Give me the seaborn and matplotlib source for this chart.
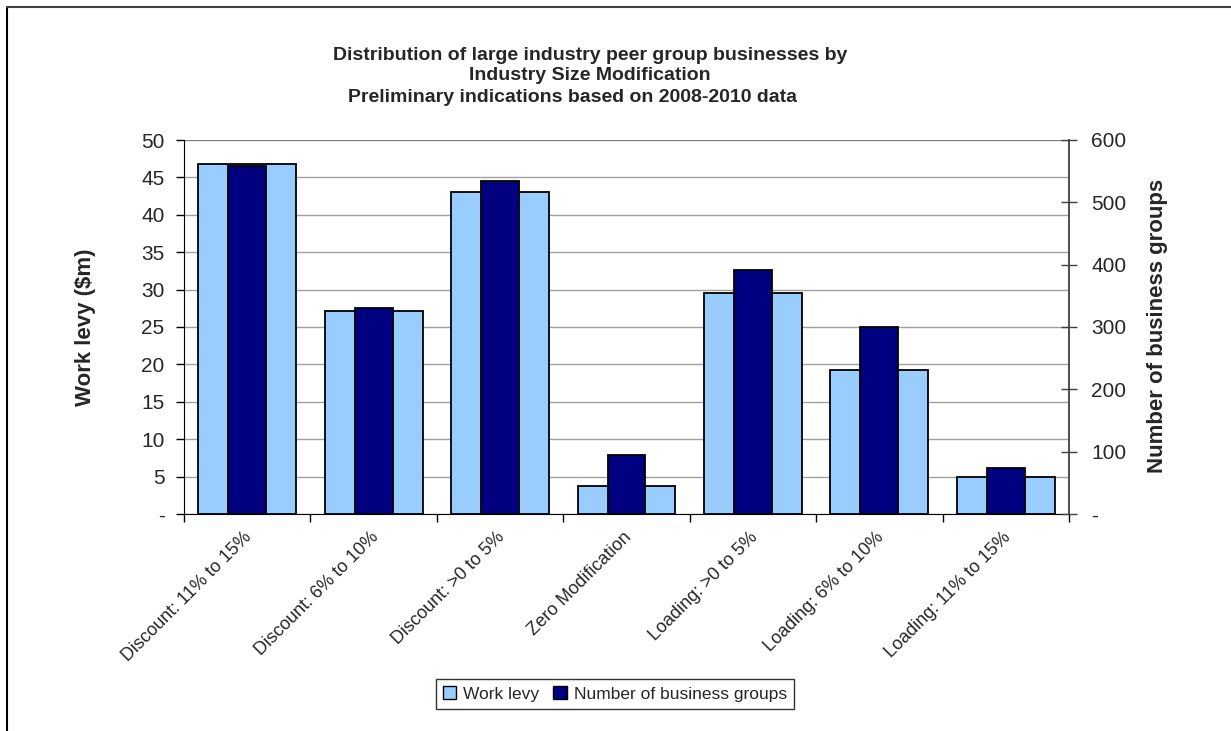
import pandas as pd
import matplotlib.pyplot as plt
import seaborn as sns
from matplotlib.lines import Line2D
from matplotlib.patches import Patch

categories = ['Discount: 11% to 15%', 'Discount: 6% to 10%', 'Discount: >0 to 5%',
              'Zero Modification', 'Loading: >0 to 5%', 'Loading: 6% to 10%',
              'Loading: 11% to 15%']
work_levy = [46.8, 27.1, 43.0, 3.8, 29.6, 19.2, 5.0]
business_groups = [559, 331, 535, 95, 391, 300, 73]

df = pd.DataFrame({'cat': categories, 'levy': work_levy, 'groups': business_groups})

sns.set_style('white')
plt.rcParams['font.family'] = ['Liberation Sans', 'DejaVu Sans']

light = '#99CCFF'
navy = '#000080'

fig = plt.figure(figsize=(12.31, 7.31), dpi=100)
ax = fig.add_axes([184 / 1231, 1 - 514 / 731, (1069 - 184) / 1231, (514 - 140) / 731])

# work levy on the left axis - wide light bars
sns.barplot(data=df, x='cat', y='levy', ax=ax, color=light, width=0.775,
            edgecolor='black', linewidth=1.3, saturation=1)
ax.set_ylim(0, 50)
ax.set_yticks(range(0, 51, 5))
ax.set_yticklabels(['-'] + [str(v) for v in range(5, 51, 5)], fontsize=15)
ax.yaxis.grid(True, color='#a0a0a0', linewidth=1)
ax.set_axisbelow(True)

# number of business groups on the right - narrow navy bars
ax2 = ax.twinx()
sns.barplot(data=df, x='cat', y='groups', ax=ax2, color=navy, width=0.3,
            edgecolor='black', linewidth=1.3, saturation=1)
ax2.set_ylim(0, 600)
ax2.set_yticks(range(0, 601, 100))
ax2.set_yticklabels(['-'] + [str(v) for v in range(100, 601, 100)], fontsize=15)

ax.set_xlim(-0.5, 6.5)
ax.set_xticks([i - 0.5 for i in range(8)], minor=False)
ax.set_xticklabels([])
for i, c in enumerate(categories):
    ax.text(i - 0.03, -2.0, c, rotation=45, ha='right', va='top',
            rotation_mode='anchor', fontsize=13)

for a in (ax, ax2):
    a.set_xlabel('')
    a.set_ylabel('')
    for s in a.spines.values():
        s.set_visible(False)
ax.spines['left'].set_visible(True)
ax.spines['bottom'].set_visible(True)
ax2.spines['right'].set_visible(True)
ax.spines['left'].set_color('black')
ax.spines['bottom'].set_color('black')
ax2.spines['right'].set_color('#404040')
ax2.spines['right'].set_linewidth(1.3)

ax.tick_params(axis='y', direction='out', length=6, width=1, color='black', left=True, pad=8)
ax.tick_params(axis='x', direction='out', length=6, width=1, color='black', bottom=True)
ax2.tick_params(axis='y', direction='inout', length=12, width=1, color='#404040', right=True, pad=10)

# top line of the plot area
ax.axhline(50, color='#808080', linewidth=1.5)

fig.text(85 / 1231, 1 - 327 / 731, 'Work levy ($m)', rotation=90, ha='center', va='center',
         fontsize=16, fontweight='bold')
fig.text(1157 / 1231, 1 - 326 / 731, 'Number of business groups', rotation=90, ha='center',
         va='center', fontsize=16, fontweight='bold')

fig.text(590 / 1231, 1 - 55 / 731, 'Distribution of large industry peer group businesses by',
         ha='center', va='center', fontsize=14, fontweight='bold')
fig.text(590 / 1231, 1 - 76 / 731, 'Industry Size Modification',
         ha='center', va='center', fontsize=14, fontweight='bold')
fig.text(572 / 1231, 1 - 97 / 731, 'Preliminary indications based on 2008-2010 data',
         ha='center', va='center', fontsize=14, fontweight='bold')

handles = [Patch(facecolor=light, edgecolor='black', linewidth=1),
           Patch(facecolor=navy, edgecolor='black', linewidth=1)]
fig.legend(handles, ['Work levy', 'Number of business groups'], loc='center',
           bbox_to_anchor=(615 / 1231, 1 - 694 / 731), ncol=2, frameon=True,
           fancybox=False, edgecolor='black', fontsize=12.5, handlelength=0.8,
           handleheight=0.8, handletextpad=0.4, columnspacing=0.8, borderpad=0.4)

# chart border (left and top edges visible)
fig.add_artist(Line2D([7 / 1231, 7 / 1231], [0, 1 - 7 / 731], transform=fig.transFigure,
                      color='black', linewidth=1.5))
fig.add_artist(Line2D([7 / 1231, 1], [1 - 7 / 731, 1 - 7 / 731], transform=fig.transFigure,
                      color='#404040', linewidth=1.5))

fig.savefig('out.png', dpi=100)
